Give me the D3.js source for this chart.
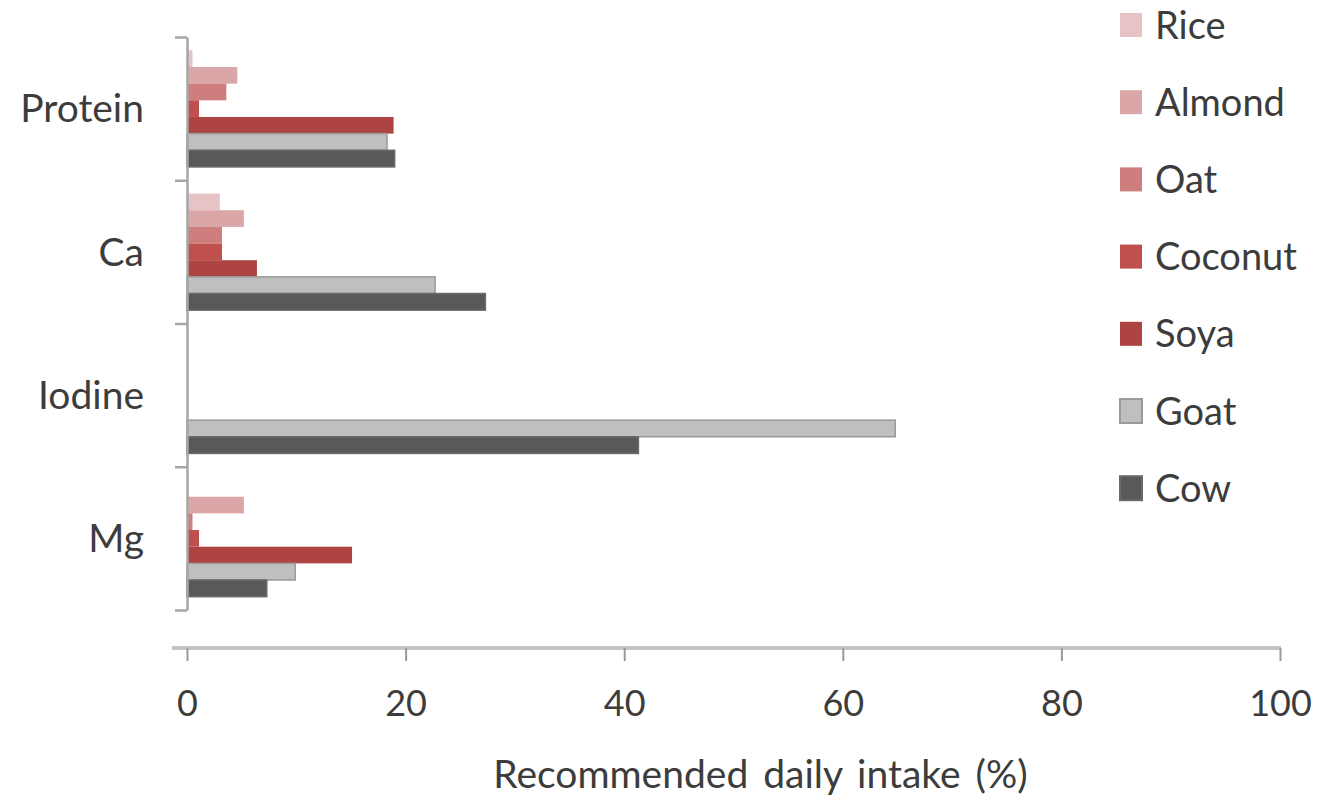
<!DOCTYPE html>
<html>
<head>
<meta charset="utf-8">
<script src="https://cdn.jsdelivr.net/npm/d3@7"></script>
<style>
  body { margin: 0; background: #fff; }
  svg { display: block; font-family: Lato, "Open Sans", sans-serif; }
</style>
</head>
<body>
<svg width="1317" height="795"></svg>
<script>
(() => {

    var width = 1317;
    var height = 795;

    // data
    var categories = ["Protein", "Ca", "Iodine", "Mg"];
    var seriesNames = ["Rice", "Almond", "Oat", "Coconut", "Soya", "Goat", "Cow"];
    var rice    = [0.5, 3.0, 0, 0];
    var almond  = [4.6, 5.2, 0, 5.2];
    var oat     = [3.6, 3.2, 0, 0.5];
    var coconut = [1.1, 3.2, 0, 1.1];
    var soya    = [18.9, 6.4, 0, 15.1];
    var goat    = [18.3, 22.7, 64.8, 9.9];
    var cow     = [19.0, 27.3, 41.3, 7.3];
    var xTicks = [0, 20, 40, 60, 80, 100];

    var values = [rice, almond, oat, coconut, soya, goat, cow];
    var colors = ["#e6c3c5", "#dba6a7", "#cd7e7d", "#c0504d", "#ae4441", "#bfbfbf", "#595959"];
    var strokes = [null, null, null, null, null, "#9a9a9a", "#6a6a6a"];
    var textColor = "#3c3c3c";

    var svg = d3.select('svg');

    //scales
    var xScale = d3.scaleLinear()
        .domain([0, 100])
        .range([187, 1280]);
    var yBand = d3.scaleBand()
        .domain(categories)
        .range([37, 610]);
    var ySub = d3.scaleBand()
        .domain(seriesNames)
        .range([0, yBand.bandwidth()])
        .paddingOuter(0.8);
    var yEdges = d3.scaleLinear()
        .domain([0, categories.length])
        .range([37, 610]);

    // bars
    var rows = [];
    categories.forEach(function (c, i) {
        seriesNames.forEach(function (s, j) {
            rows.push({cat: c, name: s, value: values[j][i], k: j});
        });
    });

    svg.append('g').selectAll('rect')
        .data(rows.filter(function (d) { return d.value > 0; }))
        .enter().append('rect')
        .attr('x', xScale(0))
        .attr('y', function (d) { return yBand(d.cat) + ySub(d.name); })
        .attr('width', function (d) { return xScale(d.value) - xScale(0); })
        .attr('height', ySub.bandwidth())
        .attr('fill', function (d) { return colors[d.k]; })
        .attr('stroke', function (d) { return strokes[d.k] || 'none'; })
        .attr('stroke-width', 1.5);

    // y axis (tick marks at category edges)
    var yAxis = d3.axisLeft(yEdges)
        .tickValues(d3.range(categories.length + 1))
        .tickFormat('')
        .tickSizeOuter(0)
        .tickSizeInner(12);
    var gy = svg.append('g')
        .attr('transform', 'translate(' + [187, 0] + ')')
        .call(yAxis);
    gy.selectAll('path, line').attr('stroke', '#a6a6a6').attr('stroke-width', 2.5);

    svg.append('g').selectAll('text')
        .data(categories)
        .enter().append('text')
        .attr('x', 144)
        .attr('y', function (d) { return yBand(d) + yBand.bandwidth() / 2; })
        .attr('text-anchor', 'end')
        .attr('dy', '0.35em')
        .attr('fill', textColor)
        .style('font-size', '39px')
        .text(function (d) { return d; });

    // x axis
    var xAxis = d3.axisBottom(xScale)
        .tickValues(xTicks)
        .tickSizeOuter(0)
        .tickSizeInner(13)
        .tickPadding(29);
    var gx = svg.append('g')
        .attr('transform', 'translate(' + [0, 648] + ')')
        .call(xAxis);
    gx.select('.domain').remove();
    gx.insert('line', ':first-child')
        .attr('x1', 172).attr('x2', xScale(100) + 1)
        .attr('y1', 0).attr('y2', 0)
        .attr('stroke', '#c4c4c4').attr('stroke-width', 4);
    gx.selectAll('.tick line').attr('stroke', '#9a9a9a').attr('stroke-width', 2);
    gx.selectAll('.tick text')
        .attr('fill', textColor)
        .style('font-size', '36px')
        .style('font-family', 'Lato, sans-serif');

    svg.append('text')
        .attr('x', (xScale(0) + xScale(100)) / 2 + 27)
        .attr('y', 788)
        .attr('text-anchor', 'middle')
        .attr('fill', textColor)
        .style('font-size', '39px')
        .style('word-spacing', '5px')
        .text('Recommended daily intake (%)');

    // legend
    var legend = svg.append('g').selectAll('g')
        .data(seriesNames)
        .enter().append('g')
        .attr('transform', function (d, i) { return 'translate(' + [1120, 25 + i * 77.2] + ')'; });
    legend.append('rect')
        .attr('x', 0).attr('y', -12)
        .attr('width', 22).attr('height', 24)
        .attr('fill', function (d, i) { return colors[i]; })
        .attr('stroke', function (d, i) { return strokes[i] || 'none'; })
        .attr('stroke-width', 2);
    legend.append('text')
        .attr('x', 35)
        .attr('dy', '0.36em')
        .attr('fill', textColor)
        .style('font-size', '38px')
        .text(function (d) { return d; });

})();
</script>
</body>
</html>
